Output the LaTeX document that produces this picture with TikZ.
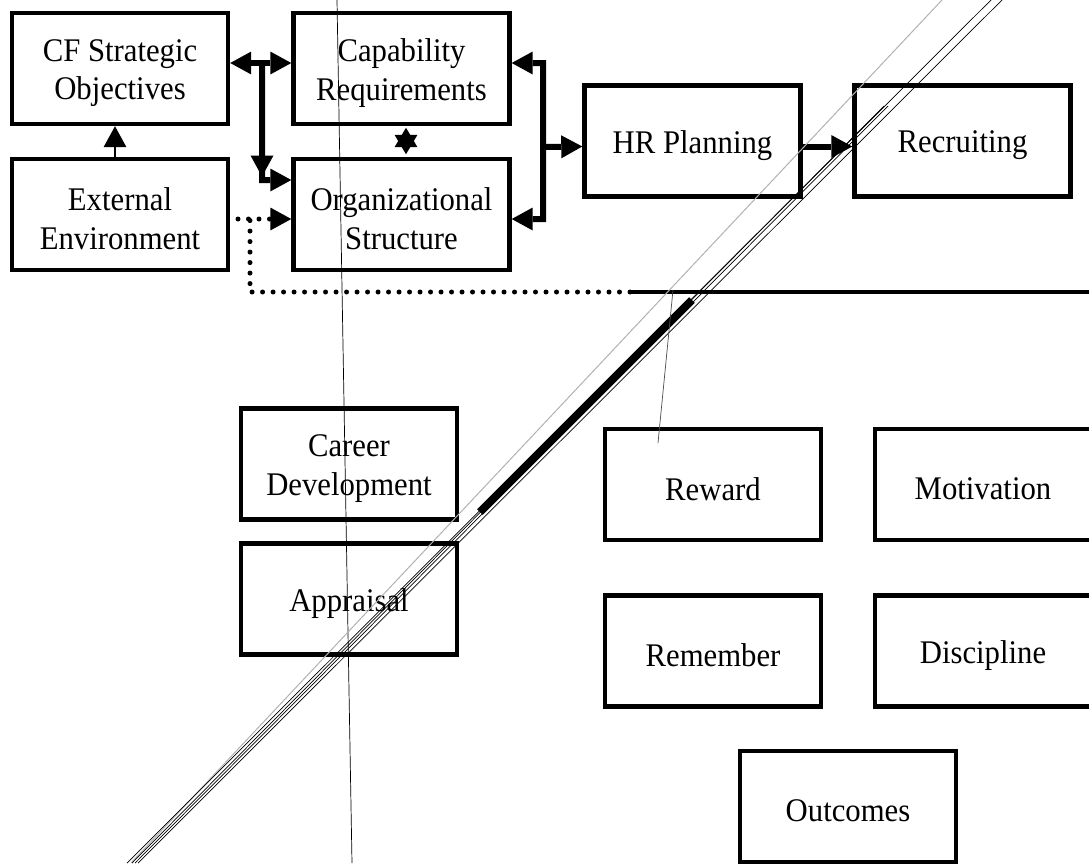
\documentclass[tikz,border=0pt]{standalone}
\usepackage{fontspec}
\setmainfont{Liberation Serif}[FakeStretch=0.93]
\usetikzlibrary{arrows.meta,calc}
\tikzset{
  box/.style={draw, line width=0.09cm, minimum width=4.32cm, minimum height=2.22cm,
    inner sep=0pt},
  lbl/.style={yshift=-0.09cm, align=center, inner sep=0pt,
    font=\fontsize{18.8}{22}\selectfont},
  boxt/.style={box, label={[lbl]center:#1}},
  conn/.style={line width=0.12cm},
  thinconn/.style={line width=0.03cm},
  dotline/.style={line width=0.1cm, line cap=round, dash pattern=on 0pt off 0.21cm},
  Hd/.tip={Triangle[length=0.42cm,width=0.46cm,line width=0pt]},
  Hs/.tip={Triangle[length=0.39cm,width=0.46cm,line width=0pt]},
  stray/.style={line width=0.014cm},
  straygray/.style={line width=0.02cm, draw=black!30},
}
\begin{document}
\begin{tikzpicture}[x=0.02cm,y=-0.02cm]
\useasboundingbox (0,0) rectangle (1089,863);
\clip (0,0) rectangle (1089,863);
\fill[white] (0,0) rectangle (1089,863);

% boxes
\node[boxt={CF Strategic\\Objectives}]      (cf)  at (120,68.5)    {};
\node[boxt={Capability\\Requirements}]      (cap) at (401.5,68.5)  {};
\node[boxt={External\\Environment}]         (ext) at (120,214.5)   {};
\node[boxt={Organizational\\Structure}]     (org) at (401.5,214.5) {};
\node[boxt={HR Planning}]                   (hr)  at (692.5,141)   {};
\node[boxt={Recruiting}]                    (rec) at (962.5,141)   {};
\node[boxt={Career\\Development}]           (car) at (349,464)     {};
\node[boxt={Appraisal}]                     (app) at (349,599)     {};
\node[boxt={Reward}]                        (rew) at (713,484.5)   {};
\node[boxt={Motivation}]                    (mot) at (983,484.5)   {};
\node[boxt={Remember}]                      (rem) at (713,651)     {};
\node[boxt={Discipline}]                    (dis) at (983,651)     {};
\node[boxt={Outcomes}]                      (out) at (848,806.5)   {};

% junction coordinates
\coordinate (j1) at (262,63);
\coordinate (j2) at (262,180);
\coordinate (b1) at (543,63);
\coordinate (b2) at (543,219);
\coordinate (b3) at (543,147);
\coordinate (d0) at (238,219);
\coordinate (d1) at (250,219);
\coordinate (d2) at (250,292);
\coordinate (d3) at (630,292);
\coordinate (d4) at (1095,292);
\coordinate (s1) at (406,148.5);
\coordinate (s2) at (406,134);

% connectors
\draw[thinconn,-Hd] ([xshift=-0.1cm]ext.north) -- ([xshift=-0.1cm]cf.south);
\draw[conn,Hd-Hd] ([yshift=0.11cm]cf.east) -- ([yshift=0.11cm]cap.west);
\draw[conn,-Hd] (j1) -- (j2) -- ([yshift=0.69cm]org.west);
\draw[conn,-Hd] ($(j1)!0.6!(j2)$) -- ($(j1)!0.97!(j2)$);
\draw[line width=0.02cm,-Hs] (s1) -- ([xshift=0.09cm,yshift=-0.03cm]cap.south);
\draw[line width=0.02cm,-Hs] (s2) -- ([xshift=0.09cm,yshift=0.05cm]org.north);
\draw[conn,Hd-Hd] ([yshift=0.11cm]cap.east) -- (b1) -- (b2) -- ([yshift=-0.09cm]org.east);
\draw[conn,-Hd] (b3) -- ([yshift=-0.11cm]hr.west);
\draw[conn,-Hd] ([yshift=-0.11cm]hr.east) -- ([yshift=-0.11cm]rec.west);
\draw[dotline] (d3) -- (d2) -- (d1);
\draw[dotline,-Hd] (d0) -- ([yshift=-0.09cm]org.west);
\draw[line width=0.09cm] (d3) -- (d4);

% stray lines
\draw[stray] (337,0) -- (352,863);
\draw[straygray] (942,0) -- (131,863);
\draw[stray] (991,0) -- (127,863);
\draw[stray] (884,106) -- (132,863);
\draw[stray] (888,106) -- (135,863);
\draw[stray] (1002,0) -- (138,863);
\draw[line width=0.16cm] (480,512) -- (692,300);
\draw[stray, draw=black!70] (673,290) -- (658,443);
\end{tikzpicture}
\end{document}
